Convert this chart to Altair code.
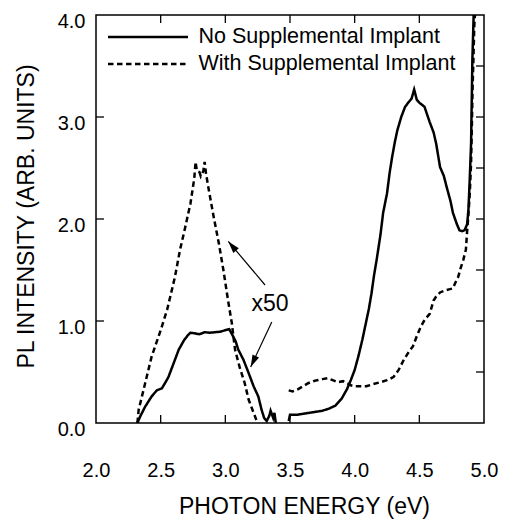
import math
import altair as alt
import pandas as pd

# ---------------- data ----------------
series_names = ["No Supplemental Implant", "With Supplemental Implant"]

# No supplemental implant, visible band (x50)
no_vis_x = [2.32, 2.34, 2.38, 2.43, 2.47, 2.51, 2.56, 2.60, 2.64, 2.68, 2.71, 2.73,
            2.76, 2.80, 2.84, 2.88, 2.92, 2.96, 3.00, 3.03, 3.06, 3.08, 3.10, 3.14,
            3.18, 3.22, 3.255, 3.28, 3.30, 3.32, 3.34, 3.35, 3.37, 3.38, 3.39]
no_vis_y = [0.00, 0.06, 0.16, 0.26, 0.32, 0.34, 0.45, 0.585, 0.72, 0.81, 0.86, 0.885,
            0.88, 0.87, 0.89, 0.885, 0.89, 0.895, 0.91, 0.92, 0.85, 0.80, 0.72, 0.62,
            0.49, 0.356, 0.26, 0.13, 0.05, 0.02, 0.07, 0.12, 0.05, 0.10, 0.00]

# No supplemental implant, UV band
no_uv_x = [3.49, 3.50, 3.55, 3.60, 3.65, 3.70, 3.75, 3.80, 3.85, 3.90, 3.94, 3.97,
           4.00, 4.03, 4.06, 4.08, 4.11, 4.13, 4.15, 4.17, 4.20, 4.22, 4.25, 4.27,
           4.29, 4.31, 4.33, 4.36, 4.39, 4.42, 4.44, 4.46, 4.48, 4.50, 4.54, 4.58,
           4.61, 4.63, 4.66, 4.69, 4.71, 4.74, 4.76, 4.79, 4.81, 4.83, 4.85, 4.87,
           4.88, 4.89, 4.90, 4.91, 4.92, 4.93]
no_uv_y = [0.02, 0.08, 0.08, 0.09, 0.10, 0.11, 0.12, 0.14, 0.17, 0.24, 0.33, 0.42,
           0.52, 0.66, 0.82, 0.94, 1.12, 1.27, 1.45, 1.60, 1.85, 2.06, 2.25, 2.45,
           2.61, 2.75, 2.87, 3.00, 3.10, 3.15, 3.18, 3.27, 3.17, 3.14, 3.10, 2.95,
           2.85, 2.74, 2.51, 2.42, 2.32, 2.18, 2.06, 1.95, 1.89, 1.88, 1.89, 1.95,
           2.10, 2.40, 2.74, 3.56, 4.00, 4.10]

# With supplemental implant, visible band (x50)
with_vis_x = [2.32, 2.33, 2.38, 2.43, 2.50, 2.55, 2.61, 2.65, 2.69, 2.73, 2.76, 2.77,
              2.78, 2.80, 2.81, 2.83, 2.84, 2.85, 2.87, 2.91, 2.95, 2.985, 3.02, 3.05,
              3.075, 3.11, 3.15, 3.18, 3.22, 3.24]
with_vis_y = [0.00, 0.13, 0.39, 0.65, 0.91, 1.11, 1.43, 1.70, 1.92, 2.15, 2.40, 2.56,
              2.47, 2.46, 2.42, 2.47, 2.56, 2.45, 2.30, 2.02, 1.76, 1.50, 1.21, 0.98,
              0.72, 0.55, 0.39, 0.23, 0.095, 0.03]

# With supplemental implant, UV band
with_uv_x = [3.49, 3.52, 3.56, 3.60, 3.64, 3.68, 3.71, 3.75, 3.79, 3.83, 3.87, 3.91,
             3.94, 3.97, 4.00, 4.04, 4.09, 4.14, 4.20, 4.25, 4.30, 4.34, 4.38, 4.42,
             4.45, 4.48, 4.51, 4.54, 4.58, 4.61, 4.63, 4.66, 4.70, 4.73, 4.76, 4.78,
             4.80, 4.82, 4.84, 4.86, 4.87, 4.88, 4.89, 4.90, 4.906, 4.912, 4.918,
             4.925, 4.935]
with_uv_y = [0.32, 0.31, 0.33, 0.36, 0.39, 0.41, 0.42, 0.43, 0.44, 0.42, 0.40, 0.41,
             0.39, 0.37, 0.36, 0.36, 0.36, 0.38, 0.40, 0.42, 0.45, 0.52, 0.62, 0.70,
             0.75, 0.85, 0.94, 1.01, 1.07, 1.20, 1.24, 1.28, 1.30, 1.31, 1.32, 1.38,
             1.43, 1.52, 1.60, 1.70, 1.89, 2.05, 2.25, 2.55, 2.90, 3.30, 3.56,
             3.90, 4.10]

x_label_values = [2.0, 2.5, 3.0, 3.5, 4.0, 4.5, 5.0]
y_label_values = [0.0, 1.0, 2.0, 3.0, 4.0]
x_inner_ticks = [2.5, 3.0, 3.5, 4.0, 4.5]
y_left_ticks = [1.0, 2.0, 3.0]
y_right_ticks = [0.5, 1.0, 1.5, 2.0, 2.5, 3.0, 3.5]

annot_text = ["x50"]
annot_x = [3.345]
annot_y = [1.165]
arrow_tail_x = [3.307, 3.359]
arrow_tail_y = [1.353, 0.99]
arrow_tip_x = [3.023, 3.196]
arrow_tip_y = [1.78, 0.55]

# ---------------- layout ----------------
W, H = 388, 408
X0, X1 = 2.0, 5.0
Y0, Y1 = 0.0, 4.0
sx = W / (X1 - X0)
sy = H / (Y1 - Y0)
TICK_PX = 8
tx = TICK_PX / sx
ty = TICK_PX / sy

FONT = "Liberation Sans"

# ---------------- tables ----------------
rows = []
for name, seg, xs_, ys_ in [
    (series_names[0], "a", no_vis_x, no_vis_y),
    (series_names[0], "b", no_uv_x, no_uv_y),
    (series_names[1], "c", with_vis_x, with_vis_y),
    (series_names[1], "d", with_uv_x, with_uv_y),
]:
    for xv, yv in zip(xs_, ys_):
        rows.append({"series": name, "seg": seg, "x": xv, "y": yv})
df = pd.DataFrame(rows)

tick_rows = []
for v in x_inner_ticks:
    tick_rows.append({"x": v, "x2": v, "y": Y0, "y2": Y0 + ty})
    tick_rows.append({"x": v, "x2": v, "y": Y1, "y2": Y1 - ty})
for v in y_left_ticks:
    tick_rows.append({"x": X0, "x2": X0 + tx, "y": v, "y2": v})
for v in y_right_ticks:
    tick_rows.append({"x": X1, "x2": X1 - tx, "y": v, "y2": v})
ticks_df = pd.DataFrame(tick_rows)

arrow_rows = []
for x_a, y_a, x_b, y_b in zip(arrow_tail_x, arrow_tail_y, arrow_tip_x, arrow_tip_y):
    dxp = (x_b - x_a) * sx
    dyp = -(y_b - y_a) * sy
    ang = math.degrees(math.atan2(dxp, -dyp)) % 360
    arrow_rows.append({"x": x_a, "y": y_a, "x2": x_b, "y2": y_b, "ang": ang})
arrows_df = pd.DataFrame(arrow_rows)

annot_df = pd.DataFrame({"x": annot_x, "y": annot_y, "t": annot_text})

# ---------------- chart ----------------
xsc = alt.Scale(domain=[X0, X1], nice=False, zero=False)
ysc = alt.Scale(domain=[Y0, Y1], nice=False, zero=False)

x_axis = alt.Axis(
    title="PHOTON ENERGY (eV)", values=x_label_values, format=".1f",
    labelFlush=False, ticks=False, tickSize=0, domain=False, grid=False,
    labelPadding=37, labelFontSize=20, titleFontSize=23,
    titleFontWeight="normal", titleX=208, titleY=90,
    titleBaseline="alphabetic", titleAlign="center")
y_axis = alt.Axis(
    title="PL INTENSITY (ARB. UNITS)", values=y_label_values, format=".1f",
    labelFlush=False, ticks=False, tickSize=0, domain=False, grid=False,
    labelPadding=11, labelOffset=6, labelFontSize=20, titleFontSize=23,
    titleFontWeight="normal", titleX=-63, titleY=201, titleAngle=270,
    titleBaseline="alphabetic", titleAlign="center")

lines = alt.Chart(df).mark_line(clip=True, strokeWidth=2.5, color="black").encode(
    x=alt.X("x:Q", scale=xsc, axis=x_axis),
    y=alt.Y("y:Q", scale=ysc, axis=y_axis),
    strokeDash=alt.StrokeDash("series:N", scale=alt.Scale(
        domain=series_names, range=[[1, 0], [5.5, 3.5]]),
        legend=alt.Legend(title=None, orient="none", legendX=10.5, legendY=8.5,
                          symbolType="stroke", symbolSize=6400,
                          symbolStrokeWidth=2.5, symbolStrokeColor="black",
                          clipHeight=27, rowPadding=0, labelOffset=9,
                          labelFontSize=21.5, labelColor="black", padding=0,
                          labelLimit=400, labelFont=FONT)),
    detail="seg:N",
)

ticks = alt.Chart(ticks_df).mark_rule(color="black", strokeWidth=1.3).encode(
    x=alt.X("x:Q", scale=xsc), x2="x2:Q",
    y=alt.Y("y:Q", scale=ysc), y2="y2:Q",
)

arrow_lines = alt.Chart(arrows_df).mark_rule(color="black", strokeWidth=1.2).encode(
    x=alt.X("x:Q", scale=xsc), x2="x2:Q",
    y=alt.Y("y:Q", scale=ysc), y2="y2:Q",
)

arrow_heads = alt.Chart(arrows_df).mark_point(
    shape="M0,0 L-0.6,2 L0.6,2 Z", filled=True, size=144, color="black", opacity=1
).encode(
    x=alt.X("x2:Q", scale=xsc),
    y=alt.Y("y2:Q", scale=ysc),
    angle=alt.Angle("ang:Q", scale=None),
)

annot = alt.Chart(annot_df).mark_text(
    fontSize=23, font=FONT, color="black", align="center", baseline="middle"
).encode(
    x=alt.X("x:Q", scale=xsc),
    y=alt.Y("y:Q", scale=ysc),
    text="t:N",
)

chart = alt.layer(lines, ticks, arrow_lines, arrow_heads, annot).properties(
    width=W, height=H,
    padding={"left": 96, "top": 15, "right": 21, "bottom": 100},
    autosize=alt.AutoSizeParams(type="none"),
).configure(font=FONT).configure_view(
    stroke="black", strokeWidth=1.5
).configure_axis(
    labelColor="black", titleColor="black", labelFont=FONT, titleFont=FONT
)

chart.save("out.html", embed_options={"renderer": "svg", "actions": False})
